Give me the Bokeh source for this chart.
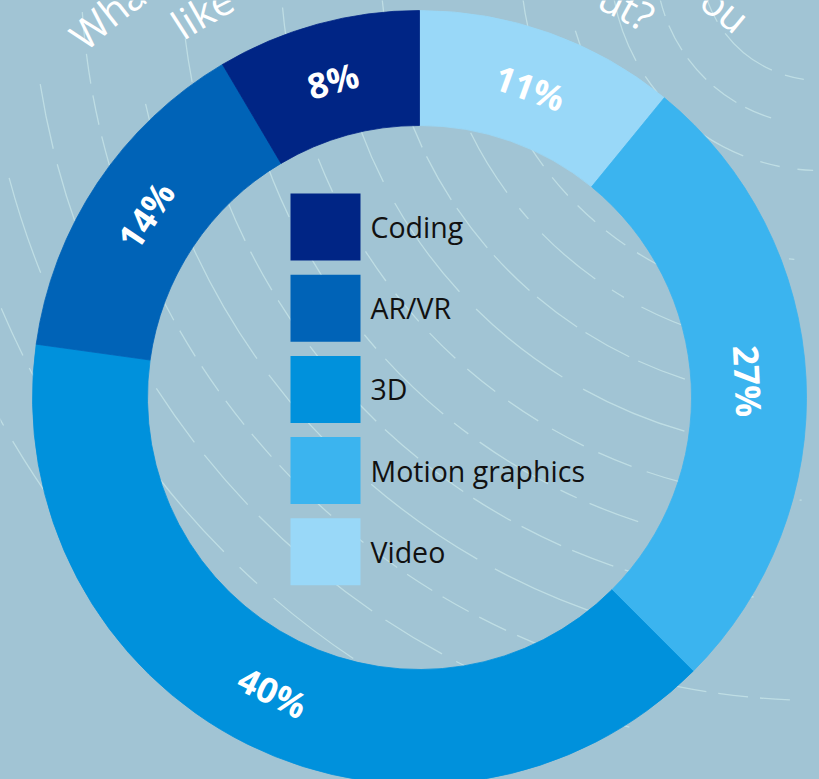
import math
from jinja2 import Template
from bokeh.plotting import figure
from bokeh.models import Range1d, ColumnDataSource
from bokeh.core.properties import value
from bokeh.embed import file_html
from bokeh.resources import INLINE

# ---------------- data ----------------
# slices clockwise from 12 o'clock
categories = ["Video", "Motion graphics", "3D", "AR/VR", "Coding"]
shares = [10.9, 26.6, 39.7, 14.3, 8.5]
pct_labels = ["11%", "27%", "40%", "14%", "8%"]
colors = ["#99d8f8", "#3bb4ef", "#0091dc", "#0063b7", "#002585"]
legend_order = ["Coding", "AR/VR", "3D", "Motion graphics", "Video"]
title_lines = ["What new creative skills would you", "like to learn more about?"]

# decorative background arcs (radius, start deg, end deg, dash)
decor_radii = [120, 165, 210, 255, 300, 345, 390, 440, 490, 540, 590, 640, 690, 740, 790, 840, 890, 940]
decor_start = [182, 190, 184, 196, 186, 200, 188, 183, 194, 185, 198, 187, 192, 184, 189, 195, 186, 191]
decor_end = [262, 255, 268, 250, 265, 258, 262, 266, 254, 268, 252, 264, 260, 268, 256, 250, 265, 262]
decor_dash = ["60 14", "28 10", "90 18 20 18", "40 12", "120 16", "24 14",
              "70 20 14 20", "50 10", "110 24", "36 16", "80 14 18 14", "44 12",
              "130 20", "30 12", "66 16", "100 22 24 22", "52 14", "90 18"]

BG = "#a1c4d4"
W, H = 819, 779

p = figure(width=W, height=H, output_backend="svg", toolbar_location=None,
           x_range=Range1d(0, W), y_range=Range1d(0, H), min_border=0)
p.axis.visible = False
p.grid.visible = False
p.outline_line_color = None
p.background_fill_color = BG
p.border_fill_color = BG

# ---------- decorative arcs ----------
DCX, DCY = 820, H + 40
for r, a0, a1, dsh in zip(decor_radii, decor_start, decor_end, decor_dash):
    p.arc(x=DCX, y=DCY, radius=r, start_angle=math.radians(a0), end_angle=math.radians(a1),
          line_color="#d2efee", line_alpha=0.6, line_width=1.3, line_dash=dsh)

# ---------- donut ----------
CX, CY = 419, H - 397
R_OUT, R_IN = 387, 272
total = sum(shares)
starts, ends, mids = [], [], []
acc = 0.0
for s in shares:
    t0 = acc / total * 360.0
    acc += s
    t1 = acc / total * 360.0
    starts.append(math.radians(90 - t0))
    ends.append(math.radians(90 - t1))
    mids.append((t0 + t1) / 2)

src = ColumnDataSource(dict(cat=categories, start=starts, end=ends, color=colors))
p.annular_wedge(x=CX, y=CY, inner_radius=R_IN, outer_radius=R_OUT,
                start_angle="start", end_angle="end", direction="clock",
                fill_color="color", line_color="color", line_width=0.8, source=src)

# percentage labels
R_LAB = 329
lx, ly, la = [], [], []
for m in mids:
    rad = math.radians(m)
    lx.append(CX + R_LAB * math.sin(rad))
    ly.append(CY + R_LAB * math.cos(rad))
    rot = -(m - 180) if 90 < m < 270 else -m
    la.append(math.radians(rot))
p.text(x=lx, y=ly, text=pct_labels, angle=la, text_align="center", text_baseline="middle",
       text_font=value("Open Sans"), text_font_style="bold", text_font_size="35px",
       text_color="white")

# ---------- legend ----------
color_of = dict(zip(categories, colors))
BOX_L, BOX_W, BOX_H, TOP0, STEP = 290, 70, 67, 193, 81.2
tops = [H - (TOP0 + i * STEP) for i in range(len(legend_order))]
p.quad(left=[BOX_L] * len(tops), right=[BOX_L + BOX_W] * len(tops), top=tops,
       bottom=[t - BOX_H for t in tops], fill_color=[color_of[c] for c in legend_order],
       line_color=None)
p.text(x=[BOX_L + BOX_W + 10] * len(tops), y=[t - BOX_H / 2 for t in tops], text=legend_order,
       text_align="left", text_baseline="middle", text_font=value("Open Sans"),
       text_font_size="28.5px", text_color="#111111")

# ---------- curved title ----------
char_w = {'a': .556, 'b': .613, 'c': .48, 'd': .613, 'e': .561, 'f': .336, 'g': .543, 'h': .613,
          'i': .258, 'j': .258, 'k': .525, 'l': .258, 'm': .929, 'n': .613, 'o': .602, 'p': .613,
          'q': .613, 'r': .408, 's': .479, 't': .352, 'u': .613, 'v': .5, 'w': .773, 'x': .522,
          'y': .5, 'z': .468, ' ': .26, '?': .43, 'W': .925}
FS = 40
title_r = [495, 443]
title_a0 = [-44.0, -33.5]
title_a1 = [41.0, 31.5]
tx, ty, tt, ta = [], [], [], []
for line, r, a0, a1 in zip(title_lines, title_r, title_a0, title_a1):
    widths = [char_w.get(ch, .56) * FS for ch in line]
    arc_len = math.radians(a1 - a0) * r
    n_sp = line.count(" ")
    extra = (arc_len - sum(widths)) / max(n_sp, 1)
    pos = 0.0
    for ch, w in zip(line, widths):
        ww = w + (extra if ch == " " else 0)
        centre = pos + ww / 2
        pos += ww
        if ch == " ":
            continue
        th = a0 + math.degrees(centre / r)
        rad = math.radians(th)
        bx, by = CX + r * math.sin(rad), CY + r * math.cos(rad)
        # lowest corner of the glyph box (page coords, y up): skip glyphs wholly above the page
        uy = -math.sin(rad)
        lowest = min(by + sx * w / 2 * uy for sx in (-1, 1))
        if lowest > H:
            continue
        tx.append(bx)
        ty.append(by)
        tt.append(ch)
        ta.append(math.radians(-th))
p.text(x=tx, y=ty, text=tt, angle=ta, text_align="center", text_baseline="alphabetic",
       text_font=value("Open Sans"), text_font_size=f"{FS}px", text_color="white")

template = Template("""{% extends base %}
{% block preamble %}<style>html, body { background: #a1c4d4; }</style>{% endblock %}""")
open("out.html", "w").write(file_html(p, INLINE, template=template))
